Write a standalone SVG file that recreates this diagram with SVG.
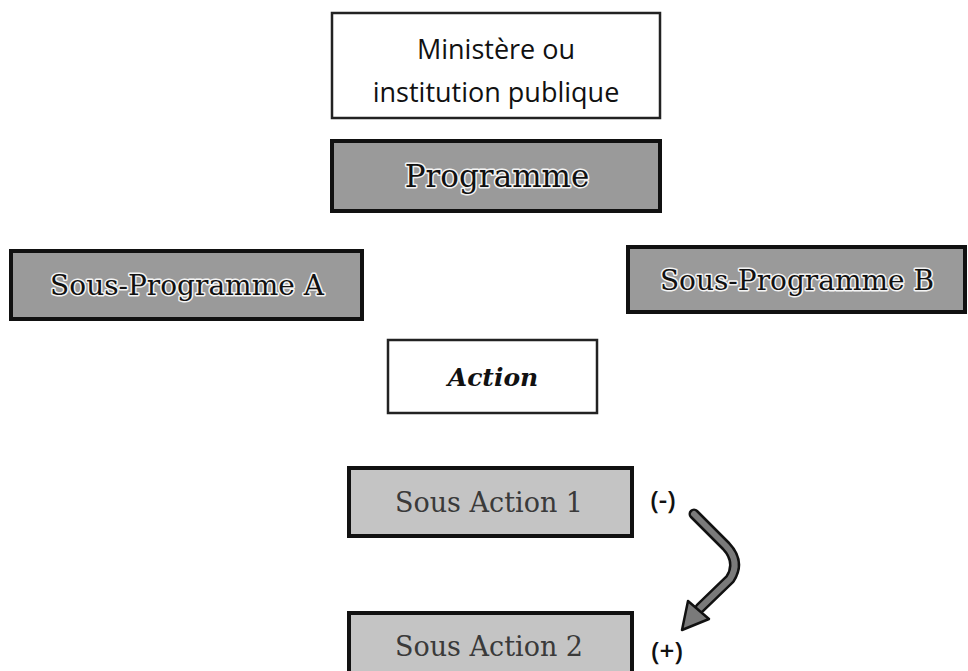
<svg xmlns="http://www.w3.org/2000/svg" width="968" height="671" viewBox="0 0 968 671">
<defs>
<style>
.bg{fill:#ffffff}
.white{fill:#ffffff;stroke:#222;stroke-width:2.5}
.dark{fill:#9a9a9a;stroke:#111;stroke-width:4}
.light{fill:#c4c4c4;stroke:#111;stroke-width:4}
.sans{font-family:"Open Sans","Noto Sans","DejaVu Sans",sans-serif;font-size:27px;fill:#111;text-anchor:middle}
.serif{font-family:"DejaVu Serif","Liberation Serif",serif;text-anchor:middle}
.halo{font-size:28px;fill:#111;stroke:#f4f4f4;stroke-width:3;paint-order:stroke;stroke-linejoin:round}
.big{font-size:31px}
.soft{font-size:27px;fill:#3a3a3a}
.it{font-size:25px;font-style:italic;font-weight:bold;fill:#111}
.sign{font-family:"Open Sans","Noto Sans",sans-serif;font-size:26px;font-weight:600;fill:#111;text-anchor:middle}
.arrowOut{fill:none;stroke:#111;stroke-width:11;stroke-linecap:round;stroke-linejoin:round}
.arrowIn{fill:none;stroke:#7a7a7a;stroke-width:6;stroke-linecap:round;stroke-linejoin:round}
.head{fill:#7a7a7a;stroke:#111;stroke-width:2.5;stroke-linejoin:round}
</style>
</defs>
<rect class="bg" width="968" height="671"/>
<g id="ministere">
<rect class="white" x="332" y="13" width="328" height="105"/>
<text class="sans" x="496" y="59">Ministère ou</text>
<text class="sans" x="496" y="102">institution publique</text>
</g>
<g id="programme">
<rect class="dark" x="332" y="141" width="328" height="70"/>
<text class="serif halo big" x="497" y="187">Programme</text>
</g>
<g id="sous-programme-a">
<rect class="dark" x="11" y="251" width="351" height="68"/>
<text class="serif halo" x="187" y="295">Sous-Programme A</text>
</g>
<g id="sous-programme-b">
<rect class="dark" x="628" y="247" width="337" height="65"/>
<text class="serif halo" x="797" y="290">Sous-Programme B</text>
</g>
<g id="action">
<rect class="white" x="388" y="340" width="209" height="73"/>
<text class="serif it" x="493" y="386">Action</text>
</g>
<g id="sous-action-1">
<rect class="light" x="349" y="468" width="283" height="68"/>
<text class="serif soft" x="489" y="512">Sous Action 1</text>
</g>
<g id="sous-action-2">
<rect class="light" x="349" y="613" width="283" height="66"/>
<text class="serif soft" x="489" y="656">Sous Action 2</text>
</g>
<g id="labels">
<text class="sign" x="663" y="509">(-)</text>
<text class="sign" x="667" y="660">(+)</text>
</g>
<g id="connectors">
<path class="arrowOut" d="M694,514 L726,546 Q741,562 730,579 L700,608"/>
<path class="arrowIn" d="M694,514 L726,546 Q741,562 730,579 L700,608"/>
<polygon class="head" points="682,630 688,601 709,619"/>
</g>
</svg>
